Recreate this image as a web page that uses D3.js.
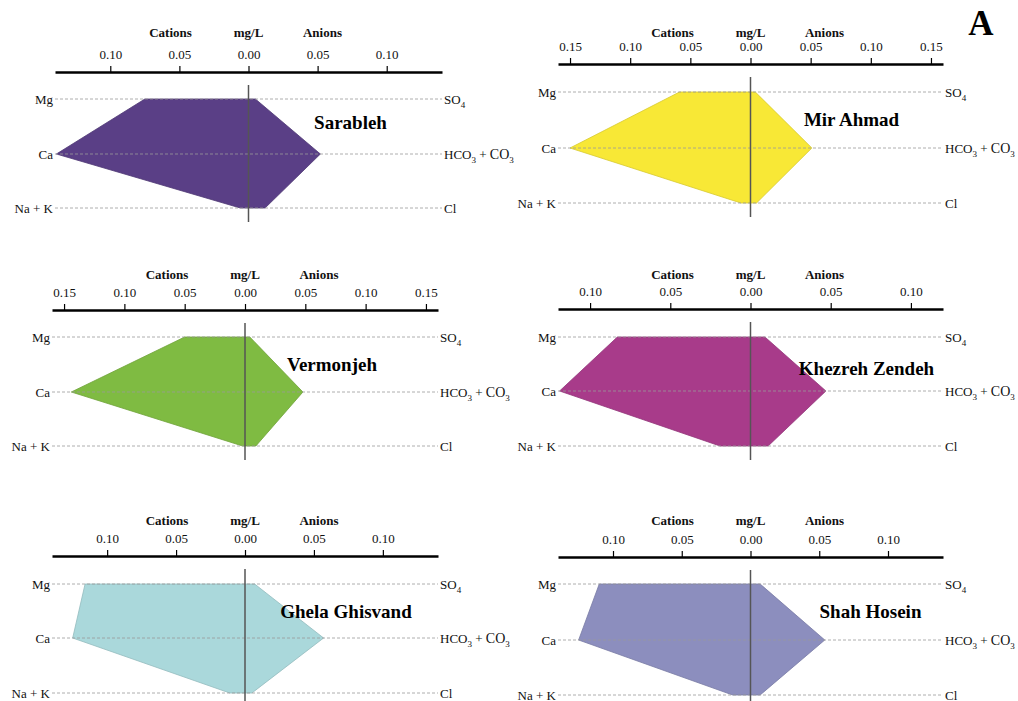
<!DOCTYPE html>
<html>
<head>
<meta charset="utf-8">
<script src="https://cdn.jsdelivr.net/npm/d3@7"></script>
<style>
  body { margin: 0; background: #fff; }
  svg text { font-family: "Liberation Serif", "DejaVu Serif", serif; }
</style>
</head>
<body>
<div id="chart"></div>
<script>
// Stiff diagrams, six stations (values in mg/L)
var stations = ["Sarableh", "Mir Ahmad", "Vermonjeh", "Khezreh Zendeh", "Ghela Ghisvand", "Shah Hosein"];
var cationNames = ["Mg", "Ca", "Na + K"];
var anionNames = ["SO4", "HCO3 + CO3", "Cl"];

// cations (left side)
var mg  = [0.075, 0.059, 0.050, 0.083, 0.116, 0.110];
var ca  = [0.139, 0.150, 0.144, 0.119, 0.125, 0.125];
var naK = [0.006, 0.008, 0.002, 0.019, 0.011, 0.013];
// anions (right side)
var so4  = [0.005, 0.004, 0.004, 0.009, 0.007, 0.007];
var hco3 = [0.052, 0.051, 0.048, 0.047, 0.057, 0.054];
var cl   = [0.012, 0.005, 0.009, 0.011, 0.005, 0.007];

// axis extent of each panel and tick step
var axisMax = [0.14, 0.16, 0.16, 0.12, 0.14, 0.14];
var tickStep = 0.05;

var colors = ["#5a3f86", "#f8e836", "#7fbb42", "#a83b8a", "#aad8db", "#8c8ebe"];

// panel layout
// ================================
var layout = [
  {x0: 55,  x1: 442, axisY: 72,  titleY: 37,  rows: [99, 154, 208],  lab: [102, 129], vEnd: 222},
  {x0: 558, x1: 943, axisY: 64,  titleY: 37,  rows: [92, 148, 203],  lab: [101, 126], vEnd: 217},
  {x0: 52,  x1: 438, axisY: 310, titleY: 279, rows: [337, 392, 446], lab: [87, 371],  vEnd: 460},
  {x0: 558, x1: 943, axisY: 309, titleY: 279, rows: [337, 391, 446], lab: [116, 375], vEnd: 460},
  {x0: 52,  x1: 438, axisY: 556, titleY: 525, rows: [584, 638, 693], lab: [101, 618], vEnd: 701},
  {x0: 558, x1: 943, axisY: 557, titleY: 525, rows: [584, 640, 695], lab: [120, 618], vEnd: 701}
];

var svgWidth = 1018;
var svgHeight = 701;

var svg = d3.select("#chart")
  .append("svg")
  .attr("width", svgWidth)
  .attr("height", svgHeight);

// writes a label, numbers after a chemical symbol become subscripts
function chemLabel(sel, label) {
  var parts = label.match(/[A-Za-z+ ]+|\d+/g);
  var shift = 0;
  parts.forEach(function(p) {
    if (/^\d+$/.test(p)) {
      sel.append("tspan").attr("font-size", "9px").attr("dy", 4).text(p);
      shift = -4;
    } else if (p === " + CO") {
      sel.append("tspan").attr("dy", shift).text(" + ");
      sel.append("tspan").attr("font-size", "14px").text("CO");
      shift = 0;
    } else {
      sel.append("tspan").attr("dy", shift).text(p);
      shift = 0;
    }
  });
}

stations.forEach(function(name, i) {
  var L = layout[i];
  var g = svg.append("g");

  var x = d3.scaleLinear()
    .domain([-axisMax[i], axisMax[i]])
    .range([L.x0, L.x1]);

  var nT = Math.floor(axisMax[i] / tickStep + 1e-9);
  var ticks = d3.range(-nT, nT + 1).map(function(k) { return k * tickStep; });

  // polygon: cations left, anions right
  var pts = [
    [x(-mg[i]), L.rows[0]],
    [x(-ca[i]), L.rows[1]],
    [x(-naK[i]), L.rows[2]],
    [x(cl[i]), L.rows[2]],
    [x(hco3[i]), L.rows[1]],
    [x(so4[i]), L.rows[0]]
  ];
  g.append("path")
    .attr("d", d3.line()(pts) + "Z")
    .attr("fill", colors[i])
    .attr("stroke", d3.color(colors[i]).darker(0.4))
    .attr("stroke-width", 0.8);

  // dashed row lines
  L.rows.forEach(function(ry) {
    g.append("line")
      .attr("x1", L.x0).attr("x2", L.x1)
      .attr("y1", ry).attr("y2", ry)
      .attr("stroke", "#9a9a9a")
      .attr("stroke-width", 0.8)
      .attr("stroke-dasharray", "3,2");
  });

  // zero line
  g.append("line")
    .attr("x1", x(0)).attr("x2", x(0))
    .attr("y1", L.axisY + 13).attr("y2", L.vEnd)
    .attr("stroke", "#555")
    .attr("stroke-width", 1.5);

  // top axis
  var topAxis = d3.axisTop(x)
    .tickValues(ticks)
    .tickSize(6)
    .tickSizeOuter(0)
    .tickPadding(7)
    .tickFormat(function(d) { return d3.format(".2f")(Math.abs(d)); });

  var ax = g.append("g")
    .attr("transform", `translate(0, ${L.axisY})`)
    .call(topAxis);
  ax.select(".domain").attr("stroke", "#000").attr("stroke-width", 2.5);
  ax.selectAll(".tick line").attr("stroke", "#000").attr("stroke-width", 1.2);
  ax.selectAll(".tick text")
    .attr("fill", "#111")
    .style("font-family", '"Liberation Serif", serif')
    .style("font-size", "13px");

  // axis titles
  [["Cations", -78], ["mg/L", 0], ["Anions", 74]].forEach(function(t) {
    g.append("text")
      .attr("x", x(0) + t[1])
      .attr("y", L.titleY)
      .attr("text-anchor", "middle")
      .attr("font-size", "13px")
      .attr("font-weight", "bold")
      .attr("fill", "#111")
      .text(t[0]);
  });

  // ion labels
  cationNames.forEach(function(c, k) {
    g.append("text")
      .attr("x", L.x0 - 2)
      .attr("y", L.rows[k] + 4.5)
      .attr("text-anchor", "end")
      .attr("font-size", "13px")
      .attr("fill", "#111")
      .text(c);
  });
  anionNames.forEach(function(a, k) {
    var t = g.append("text")
      .attr("x", L.x1 + 2)
      .attr("y", L.rows[k] + 4.5)
      .attr("font-size", "13px")
      .attr("fill", "#111");
    chemLabel(t, a);
  });

  // station name
  g.append("text")
    .attr("x", x(0) + L.lab[0])
    .attr("y", L.lab[1])
    .attr("text-anchor", "middle")
    .attr("font-size", "19px")
    .attr("font-weight", "bold")
    .attr("fill", "#000")
    .text(name);
});

// panel letter
svg.append("text")
  .attr("x", 981)
  .attr("y", 35)
  .attr("text-anchor", "middle")
  .attr("font-size", "35px")
  .attr("font-weight", "bold")
  .attr("fill", "#000")
  .text("A");
</script>
</body>
</html>
